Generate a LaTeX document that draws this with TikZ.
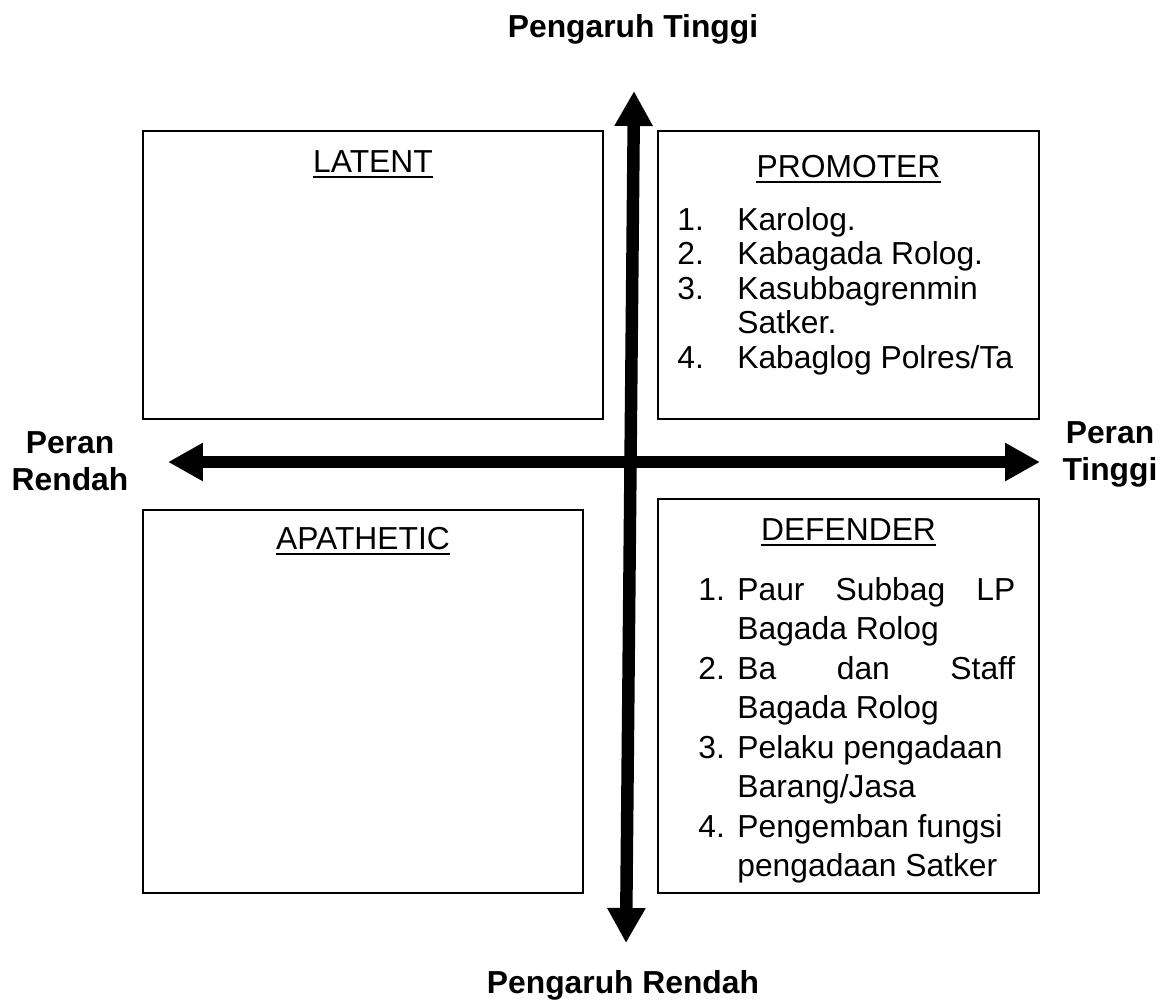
\documentclass[tikz,border=0pt]{standalone}
\usepackage{fontspec}
\setmainfont{Liberation Sans}
\usetikzlibrary{arrows.meta,positioning}

\newcommand{\numA}[1]{\leavevmode\llap{\makebox[1.2cm][l]{#1}}}
\newcommand{\numB}[1]{\leavevmode\llap{\makebox[0.78cm][l]{#1}}}

\begin{document}
\begin{tikzpicture}[x=0.02cm,y=-0.02cm,
        quad/.style={draw,line width=1.1pt,inner sep=0pt},
        axis/.style={line width=7.1pt,{Triangle[length=0.7cm,width=0.72cm]}-{Triangle[length=0.7cm,width=0.72cm]}},
        txt/.style={font=\fontsize{18.1}{19.7}\selectfont,inner sep=0pt},
        lbl/.style={font=\bfseries\fontsize{18.1}{21.5}\selectfont,inner sep=0pt}]
        \useasboundingbox (0,0) rectangle (1169,1001);
        % four quadrants
        \foreach \nm/\cx/\cy/\w/\h/\ty/\ttl in {latent/373/275/460/288/172/LATENT, promoter/848.5/275/381/288/177/PROMOTER, apathetic/363/701.5/440/383/549/APATHETIC, defender/848.5/696/381/394/540/DEFENDER}{
        \node[quad,minimum width=\w*0.02cm,minimum height=\h*0.02cm] (\nm) at (\cx,\cy) {};
        \node[txt,anchor=base] (\nm-title) at (\cx,\ty) {\ttl};
        \draw[line width=1.2pt] ([yshift=-2.9pt]\nm-title.base west) -- ([yshift=-2.9pt]\nm-title.base east);
        }
        \node[txt,anchor=base west] (promoter-list) at (737,230) {\parbox[t]{5.56cm}{\raggedright
        \numA{1.}Karolog.\\
        \numA{2.}Kabagada Rolog.\\
        \numA{3.}Kasubbagrenmin\\
        Satker.\\
        \numA{4.}Kabaglog Polres/Ta}};
        \node[txt,anchor=base west] (defender-list) at (737,600) {\parbox[t]{5.56cm}{\fontsize{18.1}{22.5}\selectfont\raggedright
        \numB{1.}Paur\hfill Subbag\hfill LP\\
        Bagada Rolog\\
        \numB{2.}Ba\hfill dan\hfill Staff\\
        Bagada Rolog\\
        \numB{3.}Pelaku pengadaan\\
        Barang/Jasa\\
        \numB{4.}Pengemban fungsi\\
        pengadaan Satker}};
        % axes
        \coordinate (up) at (634,91);
        \coordinate (down) at (626,943);
        \coordinate (west) at (168,462);
        \coordinate (east) at (1040,462);
        \draw[axis] (down) -- (up);
        \draw[axis] (west) -- (east);
        \node[lbl,anchor=base] (inf-hi) at (633,37) {Pengaruh Tinggi};
        \node[lbl,anchor=base] (inf-lo) at (623,993) {Pengaruh Rendah};
        \node[lbl,anchor=base] (role-lo) at (70,453) {\parbox[t]{3cm}{\centering Peran\\Rendah}};
        \node[lbl,anchor=base] (role-hi) at (1110,443) {\parbox[t]{3cm}{\centering Peran\\Tinggi}};
\end{tikzpicture}
\end{document}
